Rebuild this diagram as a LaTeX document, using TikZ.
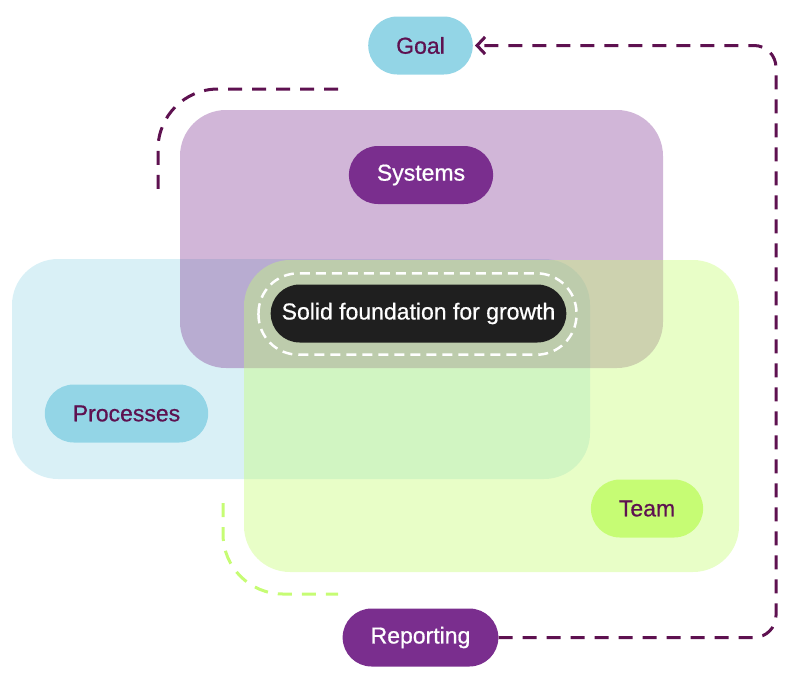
\documentclass[tikz,border=0pt]{standalone}
\usepackage{fontspec}
\setmainfont{Liberation Sans}
\newfontfamily\pillfont{Liberation Sans}[FakeBold=0.7]
\usetikzlibrary{arrows.meta}
\definecolor{pillpurple}{HTML}{7A2E8E}
\definecolor{plum}{HTML}{5E1150}
\definecolor{skyblue}{HTML}{93D5E6}
\definecolor{lime}{HTML}{C6FC74}
\definecolor{charcoal}{HTML}{1F1F1F}
\tikzset{
	pill/.style = {
		align=center,
		rectangle,
		rounded corners=29pt,
		minimum height=58pt,
		inner xsep=28pt,
		font=\pillfont\fontsize{23}{27}\selectfont
	},
	pill_purple/.style = {
		pill,
		fill=pillpurple,
		text=white
	},
	pill_blue/.style = {
		pill,
		fill=skyblue,
		text=plum
	},
	pill_lime/.style = {
		pill,
		fill=lime,
		text=plum
	},
	pill_core/.style = {
		pill,
		fill=charcoal,
		text=white,
		inner xsep=11pt
	},
	zone/.style = {
		rounded corners=46pt,
		fill opacity=0.35
	},
	loop_line/.style = {
		draw=plum,
		line width=3pt,
		dash pattern=on 14pt off 10pt
	},
	loop_lime/.style = {
		loop_line,
		draw=lime
	},
	ring/.style = {
		draw=white,
		line width=2.5pt,
		rounded corners=40pt,
		dash pattern=on 10pt off 6pt
	},
}

\begin{document}
\begin{tikzpicture}[x=1pt,y=-1pt,>={Straight Barb[length=8pt,width=17pt]}]
\useasboundingbox (0,0) rectangle (794,675);
\fill[zone, fill=skyblue] (12,259) rectangle (590,479);
\fill[zone, fill=pillpurple] (180,110) rectangle (663,368);
\fill[zone, fill=lime, fill opacity=0.4] (244,260) rectangle (739,572);

\node [pill_blue] (goal) at (420.5,45.5) {Goal};
\node [pill_purple] (systems) at (421,175) {Systems};
\node [pill_core] (core) at (418.5,313.5) {Solid foundation for growth};
\node [pill_blue] (processes) at (126.5,413.5) {Processes};
\node [pill_lime] (team) at (647,508.5) {Team};
\node [pill_purple] (report) at (420.5,637.5) {Reporting};

\draw[ring] ([xshift=-12pt,yshift=11pt]core.north west) rectangle ([xshift=10pt,yshift=-12pt]core.south east);

\coordinate (loop_ne) at (776,45.5);
\coordinate (sys_from) at (338,89);
\coordinate (sys_to) at (158,190);
\coordinate (team_from) at (223,503);
\coordinate (team_to) at (338,594);

\draw[loop_line, rounded corners=22pt, ->, shorten >=2pt] (report.east) -| (loop_ne) -- (goal.east);
\draw[loop_line, rounded corners=60pt] (sys_from) -| (sys_to);
\draw[loop_lime, rounded corners=60pt] (team_from) |- (team_to);
\end{tikzpicture}
\end{document}
